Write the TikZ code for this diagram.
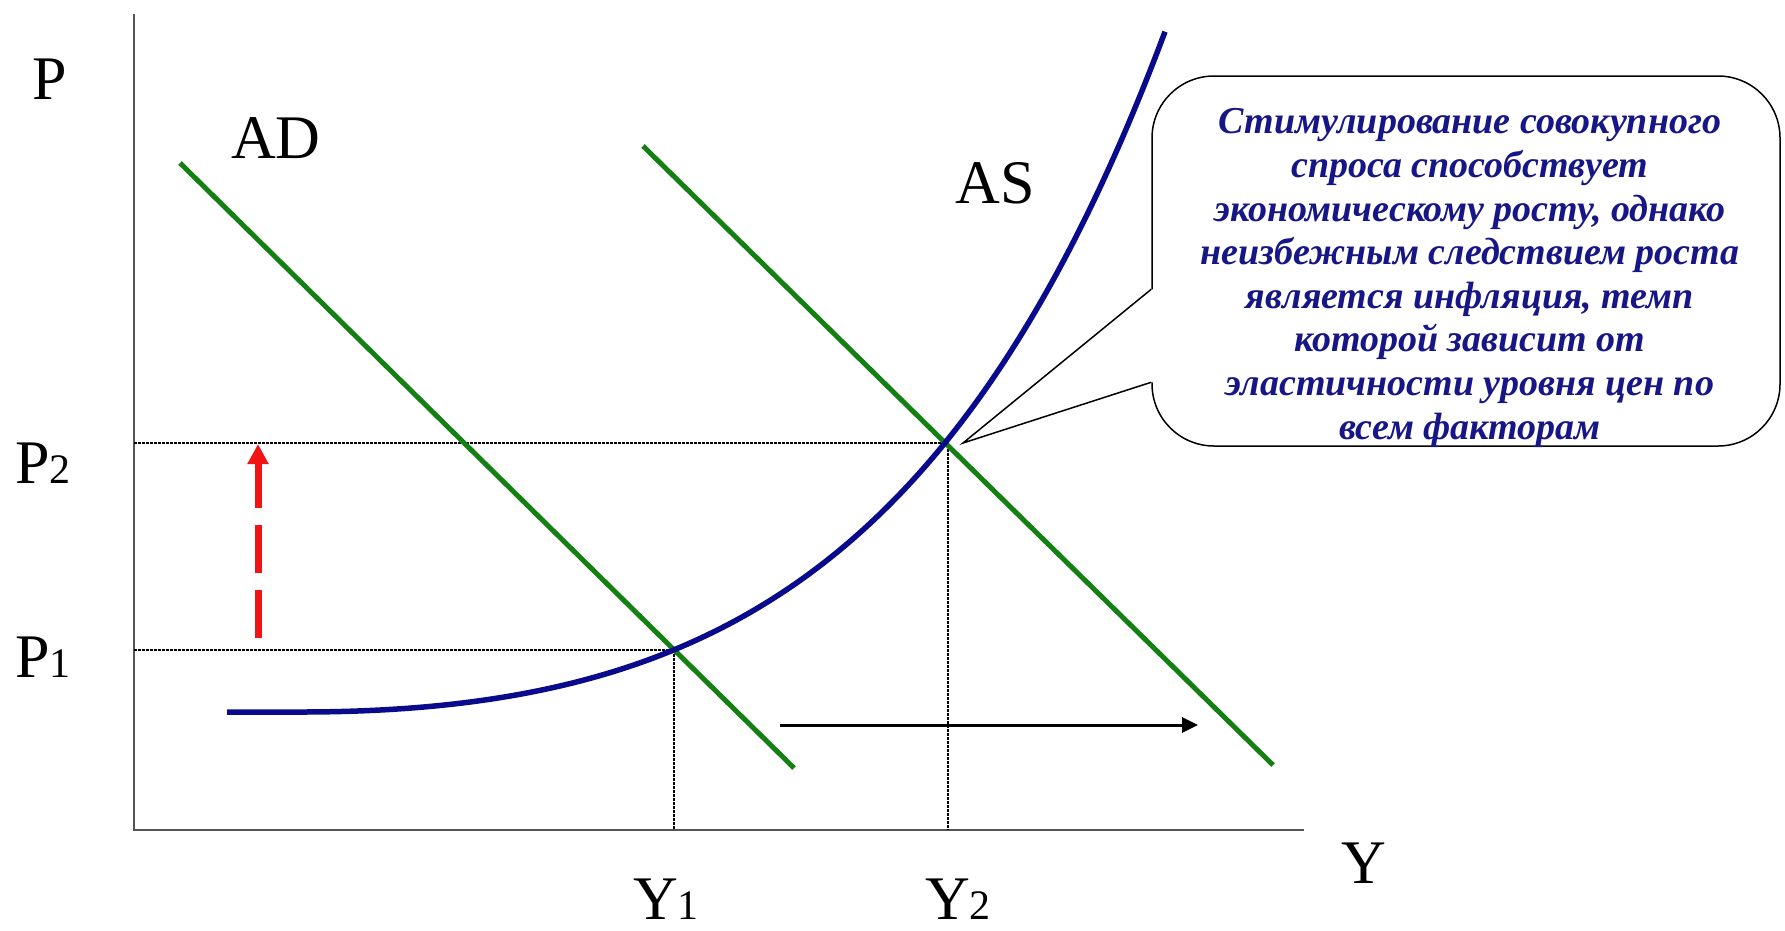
\documentclass[tikz,border=0pt]{standalone}
\usepackage{fontspec}
\setmainfont{Liberation Serif}
\usetikzlibrary{arrows.meta,calc}
\definecolor{adgreen}{RGB}{20,128,20}
\definecolor{asblue}{RGB}{10,10,140}
\definecolor{notetxt}{RGB}{22,22,135}
\definecolor{axisgray}{RGB}{85,85,85}
\definecolor{shiftred}{RGB}{240,20,20}
\begin{document}
\begin{tikzpicture}[x=1pt,y=-1pt,
  axisline/.style={draw=axisgray,line width=2},
  guide/.style={draw=black,line width=2,dash pattern=on 3 off 1},
  demand/.style={draw=adgreen,line width=5},
  supply/.style={draw=asblue,line width=5.5},
  lbl/.style={font=\fontsize{62}{62}\selectfont,inner sep=0,text=black},
  redshift/.style={draw=shiftred,line width=7,dash pattern=on 48 off 17,-{Triangle[length=20,width=20]}},
  blackshift/.style={draw=black,line width=3,-{Triangle[length=16,width=15]}},
  notebox/.style={draw=black,line width=1.5,rounded corners=62,fill=white,minimum width=628,minimum height=370,inner sep=0},
  notetext/.style={align=center,text=notetxt,inner sep=0,font=\fontsize{38}{43.6}\selectfont\bfseries\itshape}
]
\useasboundingbox (0,0) rectangle (1785,930);
\newcommand{\smalldigit}[1]{{\fontsize{42}{42}\selectfont #1}}

% key points
\coordinate (O) at (134,830);
\coordinate (ytop) at (134,14);
\coordinate (xend) at (1304,830);
\coordinate (E1) at (674,650);
\coordinate (E2) at (948,443);
\coordinate (P1a) at (134,650);
\coordinate (P2a) at (134,443);
\coordinate (Y1a) at (674,830);
\coordinate (Y2a) at (948,830);

% axes
\draw[axisline] (ytop) -- (O) -- (xend);

% guide lines
\draw[guide] (P2a) -- (E2) -- (Y2a);
\draw[guide] (P1a) -- (E1) -- (Y1a);

% callout
\node[notebox] (note) at (1466,261) {};
\coordinate (tip) at (963,443);
\coordinate (pa) at ($(note.north west)+(0,214)$);
\coordinate (pb) at ($(note.north west)+(0,307)$);
\fill[white] (pa) -- (tip) -- (pb) -- ($(pb)+(3,0)$) -- ($(pa)+(3,0)$) -- cycle;
\draw[line width=1.5] (pa) -- (tip) -- (pb);
\node[notetext] (notetxt) at (1470,278) {Стимулирование совокупного\\спроса способствует\\экономическому росту, однако\\неизбежным следствием роста\\является инфляция, темп\\которой зависит от\\эластичности уровня цен по\\всем факторам};

% demand curves
\coordinate (ad1s) at (180,163);
\coordinate (ad1e) at (794,768);
\coordinate (ad2s) at (643,146);
\coordinate (ad2e) at (1273,765);
\draw[demand] (ad1s) -- (ad1e);
\draw[demand] (ad2s) -- (ad2e);

% supply curve
\draw[supply] (227,712) -- (300,712)
  plot[domain=300:1165,samples=120,smooth] (\x,{712-55.7*(exp(0.0032*(\x-300))-1-0.0032*(\x-300))});

% shift arrows
\coordinate (r0) at (258,638);
\coordinate (r1) at (258,444);
\draw[redshift] (r0) -- (r1);
\coordinate (b0) at (780,725);
\coordinate (b1) at (1198,725);
\draw[blackshift] (b0) -- (b1);

% labels
\node[lbl,anchor=base] (Plab) at (50,99) {P};
\node[lbl,anchor=base] (ADlab) at (276,158) {AD};
\node[lbl,anchor=base] (ASlab) at (995,203) {AS};
\node[lbl,anchor=base west] (P2lab) at (15,483) {P\smalldigit{2}};
\node[lbl,anchor=base west] (P1lab) at (15,677) {P\smalldigit{1}};
\node[lbl,anchor=base west] (Y1lab) at (633,919) {Y\smalldigit{1}};
\node[lbl,anchor=base west] (Y2lab) at (925,919) {Y\smalldigit{2}};
\node[lbl,anchor=base] (Ylab) at (1364,883) {Y};
\end{tikzpicture}
\end{document}
